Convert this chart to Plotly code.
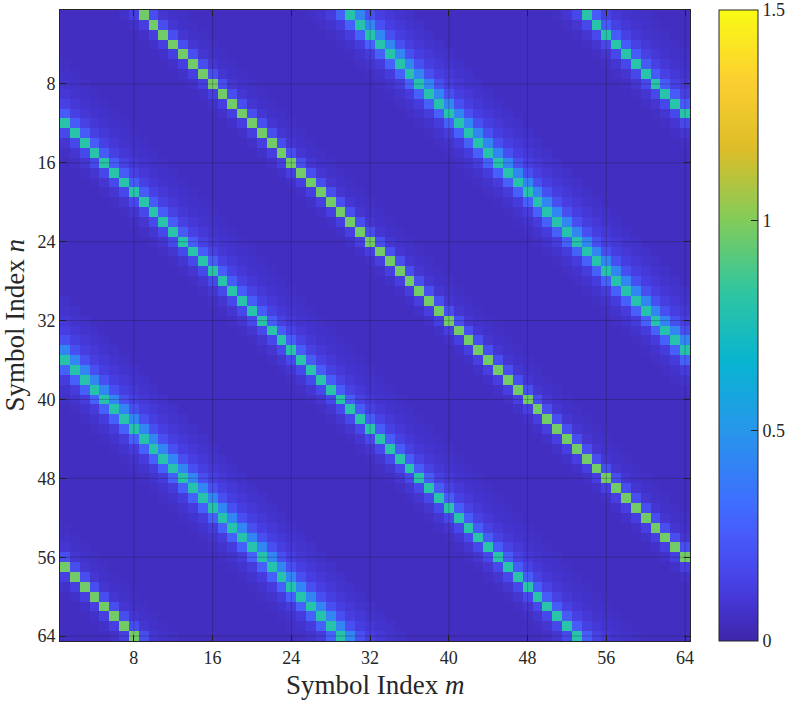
"""Symbol-domain interference matrix (|H[n, m]|) as a heatmap."""
import numpy as np
import plotly.graph_objects as go

N = 64
symbols = list(range(1, N + 1))
tick_vals = [8, 16, 24, 32, 40, 48, 56, 64]
cbar_ticks = [0, 0.5, 1, 1.5]

# circular diagonal offsets (n - m mod 64) of the three paths
band_offsets = [56, 11, 35]
# extra magnitude read across a row, at columns -4 .. +6 from the band centre
rel_cols = [-4, -3, -2, -1, 0, 1, 2, 3, 4, 5, 6]
band_profiles = [
    [0.00, 0.00, 0.02, 0.08, 0.92, 0.14, 0.04, 0.02, 0.01, 0.00, 0.00],
    [0.00, 0.01, 0.04, 0.12, 0.75, 0.20, 0.09, 0.05, 0.03, 0.02, 0.01],
    [0.01, 0.03, 0.07, 0.22, 0.74, 0.38, 0.15, 0.08, 0.05, 0.03, 0.02],
]
floor_level = 0.05

# parula (R2017a) sampled at 13 points
parula = [
    [0.0, "rgb(62,38,168)"],
    [0.035, "rgb(66,47,194)"],
    [0.071, "rgb(70,57,217)"],
    [0.111, "rgb(71,71,235)"],
    [0.165, "rgb(71,90,249)"],
    [0.222, "rgb(62,111,255)"],
    [0.333, "rgb(39,150,235)"],
    [0.444, "rgb(8,181,208)"],
    [0.556, "rgb(49,198,159)"],
    [0.667, "rgb(129,204,89)"],
    [0.778, "rgb(220,189,41)"],
    [0.889, "rgb(252,207,48)"],
    [1.0, "rgb(249,251,21)"],
]

z = np.full((N, N), floor_level)
for d, prof in zip(band_offsets, band_profiles):
    for n in range(N):
        centre = (n - d) % N
        for j, v in zip(rel_cols, prof):
            z[n, (centre + j) % N] += v

FONT = "Liberation Serif"
INK = "#262626"

fig = go.Figure(
    go.Heatmap(
        z=z,
        x=symbols,
        y=symbols,
        colorscale=parula,
        zmin=0,
        zmax=1.5,
        colorbar=dict(
            xref="container",
            x=719 / 793,
            xanchor="left",
            y=0.5,
            len=1.0,
            lenmode="fraction",
            thickness=39,
            xpad=0,
            ypad=0,
            outlinewidth=1,
            outlinecolor=INK,
            tickvals=cbar_ticks,
            ticktext=["0", "0.5", "1", "1.5"],
            ticks="inside",
            ticklen=7,
            tickcolor=INK,
            tickfont=dict(family=FONT, size=18, color=INK),
        ),
        hovertemplate="m=%{x}, n=%{y}<br>|H|=%{z:.3f}<extra></extra>",
    )
)

# MATLAB-style grid drawn on top of the image
for t in tick_vals:
    fig.add_shape(type="line", xref="x", yref="paper", x0=t, x1=t, y0=0, y1=1,
                  line=dict(color="rgba(20,20,20,0.25)", width=1), layer="above")
    fig.add_shape(type="line", xref="paper", yref="y", x0=0, x1=1, y0=t, y1=t,
                  line=dict(color="rgba(20,20,20,0.25)", width=1), layer="above")

axis_common = dict(
    tickvals=tick_vals,
    ticks="inside",
    ticklen=6,
    tickcolor=INK,
    showline=True,
    linecolor=INK,
    linewidth=1,
    mirror="ticks",
    showgrid=False,
    zeroline=False,
    automargin=False,
    tickfont=dict(family=FONT, size=18, color=INK),
)

fig.update_xaxes(range=[0.5, N + 0.5], **axis_common)
fig.update_yaxes(range=[N + 0.5, 0.5], **axis_common)

# axis titles
fig.add_annotation(text="Symbol Index <i>m</i>", xref="paper", yref="paper",
                   x=0.5, y=0, yshift=-44, xanchor="center", yanchor="middle",
                   showarrow=False, font=dict(family=FONT, size=27, color=INK))
fig.add_annotation(text="Symbol Index <i>n</i>", xref="paper", yref="paper",
                   x=0, y=0.5, xshift=-46, xanchor="center", yanchor="middle",
                   textangle=-90, showarrow=False, font=dict(family=FONT, size=27, color=INK))

fig.update_layout(
    width=793,
    height=701,
    margin=dict(l=60, r=103, t=10, b=60),
    paper_bgcolor="white",
    plot_bgcolor="white",
)

# drop the default 8 px body margin so the figure sits at the window corner
fig.write_html(
    "out.html",
    config={"displayModeBar": False},
    post_script="document.body.style.margin='0';",
)
